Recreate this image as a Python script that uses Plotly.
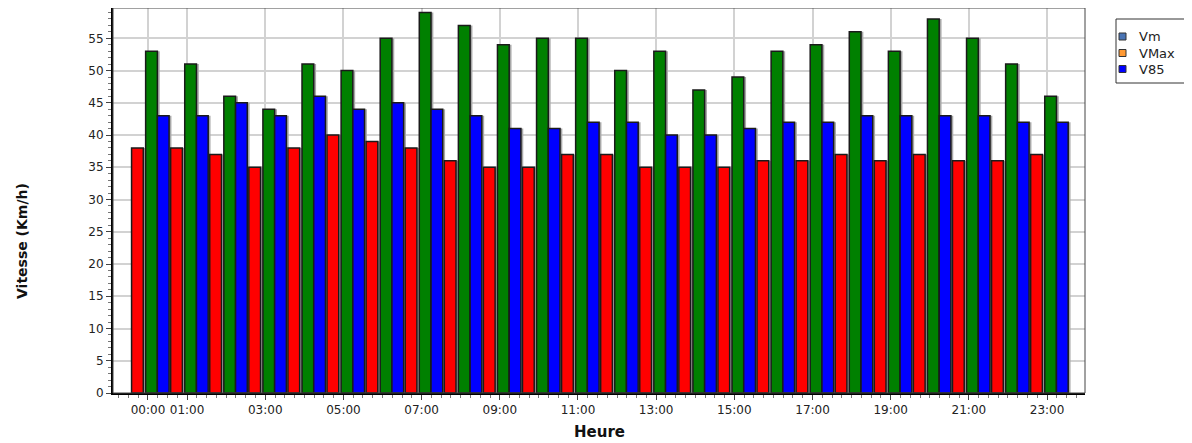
import plotly.graph_objects as go

hours = list(range(24))
tick_hours = [0, 1, 3, 5, 7, 9, 11, 13, 15, 17, 19, 21, 23]
tick_labels = ["%02d:00" % h for h in tick_hours]

vm = [38, 38, 37, 35, 38, 40, 39, 38, 36, 35, 35, 37, 37, 35, 35, 35, 36, 36, 37, 36, 37, 36, 36, 37]
vmax = [53, 51, 46, 44, 51, 50, 55, 59, 57, 54, 55, 55, 50, 53, 47, 49, 53, 54, 56, 53, 58, 55, 51, 46]
v85 = [43, 43, 45, 43, 46, 44, 45, 44, 43, 41, 41, 42, 42, 40, 40, 41, 42, 42, 43, 43, 43, 43, 42, 42]

names = ["Vm", "VMax", "V85"]
values = [vm, vmax, v85]
bar_colors = ["#ff0000", "#008000", "#0000ff"]
legend_colors = ["#4a74b4", "#ff9933", "#0000ff"]
offsets = [-0.42, -0.06, 0.24]
BAR_W = 0.30
SHADOW_DX = 0.06

fig = go.Figure()
# shadows
for vals, off in zip(values, offsets):
    fig.add_trace(go.Bar(x=hours, y=vals, width=BAR_W, offset=off + SHADOW_DX, showlegend=False,
                         hoverinfo="skip",
                         marker=dict(color="#a8a8a8", line=dict(width=0))))
for name, vals, col, off in zip(names, values, bar_colors, offsets):
    fig.add_trace(go.Bar(x=hours, y=vals, name=name, width=BAR_W, offset=off, showlegend=False,
                         marker=dict(color=col, line=dict(color="#1a1a1a", width=1.5))))

# the page body adds an 8px offset; target page pixel geometry below
OFF = 8
W, H = 1192 - OFF, 443 - OFF
PL, PR, PT, PB = 113, 1085, 8, 393      # plot area in page pixels
L, T = PL - OFF, PT - OFF
pw, ph = PR - PL, PB - PT
R, B = W - L - pw, H - T - ph

fig.update_layout(
    width=W, height=H,
    margin=dict(l=L, r=R, t=T, b=B, autoexpand=False),
    paper_bgcolor="white", plot_bgcolor="white",
    barmode="overlay",
    showlegend=False,
    font=dict(family="DejaVu Sans, sans-serif", size=12, color="#222222"),
    xaxis=dict(range=[-0.895, 23.97], tickmode="array", tickvals=tick_hours, ticktext=tick_labels,
               automargin=False,
               showgrid=True, gridcolor="#d2d2d2", gridwidth=1.5,
               showline=True, linecolor="black", linewidth=2,
               ticks="outside", ticklen=5, tickcolor="#444444",
               minor=dict(dtick=0.25, tick0=0, ticks="outside", ticklen=3, tickcolor="#777777", showgrid=False),
               zeroline=False),
    yaxis=dict(range=[0, 59.7], tickmode="linear", tick0=0, dtick=5,
               automargin=False,
               showgrid=True, gridcolor="#d2d2d2", gridwidth=1.5,
               showline=True, linecolor="black", linewidth=2,
               ticks="outside", ticklen=5, tickcolor="#444444",
               minor=dict(dtick=1, ticks="outside", ticklen=3, tickcolor="#777777", showgrid=False),
               zeroline=False),
)
fig.add_shape(type="rect", xref="paper", yref="paper", x0=0, y0=0, x1=1, y1=1,
              line=dict(color="#444444", width=1), layer="above")


def px_x(x):
    return (x - PL) / pw


def px_y(y):
    return (PB - y) / ph


# axis titles
fig.add_annotation(text="<b>Heure</b>", xref="paper", yref="paper", x=px_x(599), y=px_y(432),
                   xanchor="center", yanchor="middle", showarrow=False,
                   font=dict(family="DejaVu Sans, sans-serif", size=15, color="#111111"))
fig.add_annotation(text="<b>Vitesse (Km/h)</b>", xref="paper", yref="paper",
                   x=px_x(22), y=px_y(241), textangle=-90,
                   xanchor="center", yanchor="middle", showarrow=False,
                   font=dict(family="DejaVu Sans, sans-serif", size=14, color="#111111"))

# custom legend (box, swatches, labels)
fig.add_shape(type="rect", xref="paper", yref="paper", x0=px_x(1116), x1=px_x(1187),
              y0=px_y(83), y1=px_y(19), line=dict(color="#333333", width=1), fillcolor="white")
rows = [36.5, 53, 69]
for name, col, ry in zip(names, legend_colors, rows):
    fig.add_shape(type="rect", xref="paper", yref="paper", x0=px_x(1119), x1=px_x(1126),
                  y0=px_y(ry + 3.5), y1=px_y(ry - 3.5), line=dict(color="#333333", width=1),
                  fillcolor=col)
    fig.add_annotation(text=name, xref="paper", yref="paper", x=px_x(1137), y=px_y(ry),
                       xanchor="left", yanchor="middle", showarrow=False,
                       font=dict(family="DejaVu Sans, sans-serif", size=13, color="#222222"))

fig.write_html("out.html")
